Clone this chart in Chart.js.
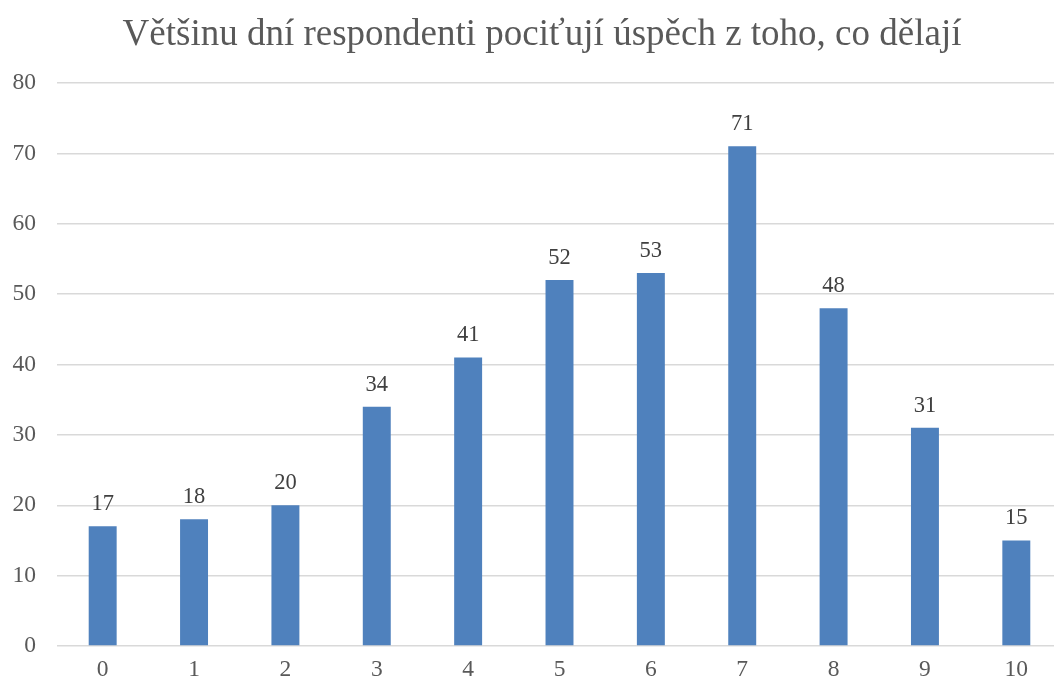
<!DOCTYPE html>
<html>
<head>
<meta charset="utf-8">
<script src="https://cdn.jsdelivr.net/npm/chart.js@4/dist/chart.umd.min.js"></script>
<style>
  html, body { margin: 0; padding: 0; background: #ffffff; overflow: hidden; }
  #wrap { width: 1062px; height: 684px; position: relative; }
</style>
</head>
<body>
<div id="wrap"><canvas id="c"></canvas></div>
<script>
const titleText = 'Většinu dní respondenti pociťují úspěch z toho, co dělají';
const categories = ['0', '1', '2', '3', '4', '5', '6', '7', '8', '9', '10'];
const counts = [17, 18, 20, 34, 41, 52, 53, 71, 48, 31, 15];
const yMin = 0, yMax = 80, yStep = 10;

const FONT = "'Liberation Serif', 'Times New Roman', serif";

const titleDraw = {
  id: 'titleDraw',
  afterDraw(chart) {
    const ctx = chart.ctx;
    ctx.save();
    ctx.font = '37px ' + FONT;
    ctx.fillStyle = '#595959';
    ctx.textAlign = 'center';
    ctx.textBaseline = 'middle';
    ctx.fillText(titleText, 542, 35);
    ctx.restore();
  }
};

const valueLabels = {
  id: 'valueLabels',
  afterDatasetsDraw(chart) {
    const ctx = chart.ctx;
    const meta = chart.getDatasetMeta(0);
    ctx.save();
    ctx.font = '22.5px ' + FONT;
    ctx.fillStyle = '#404040';
    ctx.textAlign = 'center';
    ctx.textBaseline = 'middle';
    meta.data.forEach((bar, i) => {
      ctx.fillText(String(chart.data.datasets[0].data[i]), bar.x, bar.y - 22);
    });
    ctx.restore();
  }
};

new Chart(document.getElementById('c'), {
  type: 'bar',
  data: {
    labels: categories,
    datasets: [{
      data: counts,
      backgroundColor: '#4F81BD',
      borderWidth: 0,
      barPercentage: 0.306,
      categoryPercentage: 1.0
    }]
  },
  options: {
    responsive: true,
    maintainAspectRatio: false,
    animation: false,
    layout: { padding: { left: 0, right: 0, top: 83, bottom: 4 } },
    plugins: {
      legend: { display: false },
      tooltip: { enabled: false },
      title: { display: false }
    },
    scales: {
      x: {
        afterFit(scale) { scale.height = 34; },
        grid: { display: false, drawTicks: false },
        border: { display: false },
        ticks: { color: '#595959', font: { family: FONT, size: 23.5 }, padding: 10 }
      },
      y: {
        min: yMin, max: yMax,
        afterFit(scale) { scale.width = 57; },
        grid: { color: '#d9d9d9', lineWidth: 1.5, drawTicks: false },
        border: { display: false },
        ticks: { stepSize: yStep, color: '#595959', font: { family: FONT, size: 23.5 }, padding: 21 }
      }
    }
  },
  plugins: [valueLabels, titleDraw]
});
</script>
</body>
</html>
